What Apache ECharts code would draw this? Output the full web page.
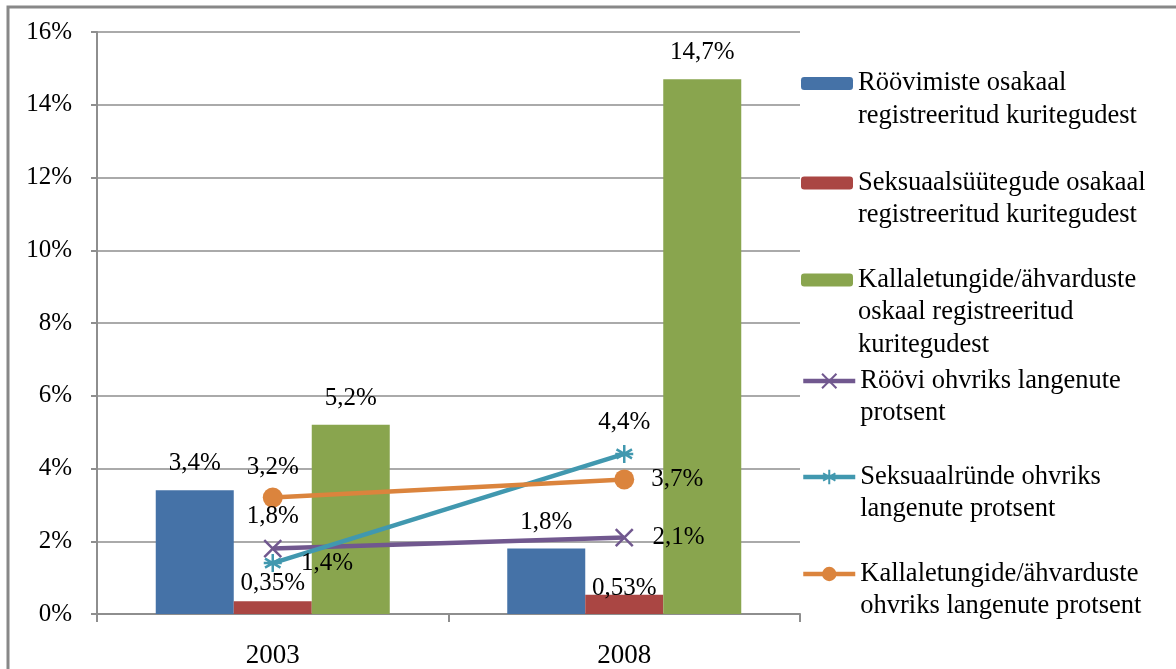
<!DOCTYPE html>
<html>
<head>
<meta charset="utf-8">
<script src="https://cdn.jsdelivr.net/npm/echarts@6/dist/echarts.min.js"></script>
<style>
  html, body { margin: 0; padding: 0; background: #fff; }
  #chart { width: 1176px; height: 669px; }
</style>
</head>
<body>
<div id="chart"></div>
<script>
// andmed
const years = ['2003', '2008']
const roovimisteOsakaal = [3.4, 1.8]
const seksOsakaal = [0.35, 0.53]
const kallaletungOsakaal = [5.2, 14.7]
const rooviOhvrid = [1.8, 2.1]
const seksOhvrid = [1.4, 4.4]
const kallaletungOhvrid = [3.2, 3.7]

const names = [
  'Röövimiste osakaal\nregistreeritud kuritegudest',
  'Seksuaalsüütegude osakaal\nregistreeritud kuritegudest',
  'Kallaletungide/ähvarduste\noskaal registreeritud\nkuritegudest',
  'Röövi ohvriks langenute\nprotsent',
  'Seksuaalründe ohvriks\nlangenute protsent',
  'Kallaletungide/ähvarduste\nohvriks langenute protsent',
]

const FONT = 'Liberation Serif'
const L = 32.5
const fmt = (p) => String(p.value).replace('.', ',') + '%'

const mychart = echarts.init(document.getElementById('chart'))

// legend item with icon beside the first text line
function legendAt(name, y, isBar) {
  const lines = name.split('\n').length
  return {
    left: 801,
    top: y - (2 * lines - 1) * L / 2 + 3,
    padding: 0,
    itemWidth: 52,
    itemHeight: isBar ? 13 : 18,
    selectedMode: false,
    data: [name],
    formatter: (n) => '\n'.repeat(lines - 1) + n,
    lineStyle: { width: 4.5 },
    textStyle: {
      fontFamily: FONT,
      fontSize: 26.5,
      lineHeight: L,
      color: '#000',
    },
  }
}

function barSeries(name, values, color, labelDist) {
  return {
    name,
    type: 'bar',
    barWidth: 78,
    barGap: '0%',
    itemStyle: { color },
    data: values.map((v, i) => ({
      value: v,
      label: { distance: labelDist ? labelDist[i] : 14 },
    })),
    label: {
      show: true,
      position: 'top',
      formatter: fmt,
      fontFamily: FONT,
      fontSize: 25,
      color: '#000',
    },
    z: 2,
  }
}

function lineSeries(name, values, color, symbol, size, positions) {
  return {
    name,
    type: 'line',
    symbol,
    symbolSize: size,
    lineStyle: { color, width: 4.5 },
    itemStyle: { color, borderColor: color, borderWidth: symbol === 'circle' ? 0 : 2.5 },
    data: values.map((v, i) => ({
      value: v,
      label: {
        position: positions[i],
        distance: positions[i] === 'top' ? 18 - size / 2 : 27 - size / 2,
      },
    })),
    label: {
      show: true,
      formatter: fmt,
      fontFamily: FONT,
      fontSize: 25,
      color: '#000',
    },
    z: 5,
  }
}

mychart.setOption({
  animation: false,
  grid: { left: 97, right: 376, top: 32, bottom: 55 },
  legend: [
    legendAt(names[0], 80.5, true),
    legendAt(names[1], 180, true),
    legendAt(names[2], 277, true),
    legendAt(names[3], 378, false),
    legendAt(names[4], 474, false),
    legendAt(names[5], 571, false),
  ],
  xAxis: {
    type: 'category',
    data: years,
    axisLine: { lineStyle: { color: '#8e8e8e', width: 2 } },
    axisTick: { show: true, length: 8, lineStyle: { color: '#8e8e8e', width: 2 } },
    axisLabel: { fontFamily: FONT, fontSize: 27, color: '#000', margin: 28 },
  },
  yAxis: {
    type: 'value',
    min: 0,
    max: 16,
    interval: 2,
    axisLine: { show: true, lineStyle: { color: '#8e8e8e', width: 2 } },
    axisTick: { show: true, length: 6, lineStyle: { color: '#8e8e8e', width: 2 } },
    splitLine: { lineStyle: { color: '#8e8e8e', width: 1.5 } },
    axisLabel: { fontFamily: FONT, fontSize: 25, color: '#000', margin: 25, formatter: '{value}%' },
  },
  graphic: [
    {
      type: 'rect',
      shape: { x: 8, y: 7, width: 1300, height: 800 },
      style: { fill: 'none', stroke: '#888', lineWidth: 3 },
      silent: true,
      z: 100,
    },
  ],
  series: [
    barSeries(names[0], roovimisteOsakaal, '#4572A7'),
    barSeries(names[1], seksOsakaal, '#AA4643', [5, -6]),
    barSeries(names[2], kallaletungOsakaal, '#89A54E'),
    lineSeries(names[3], rooviOhvrid, '#71588F', 'path://M0,0L10,10M10,0L0,10', 17, ['top', 'right']),
    lineSeries(names[4], seksOhvrid, '#4198AF', 'path://M5,0L5,10M0.7,2.5L9.3,7.5M9.3,2.5L0.7,7.5M0,5L10,5', 18, ['right', 'top']),
    lineSeries(names[5], kallaletungOhvrid, '#DB843D', 'circle', 20, ['top', 'right']),
  ],
})
</script>
</body>
</html>
